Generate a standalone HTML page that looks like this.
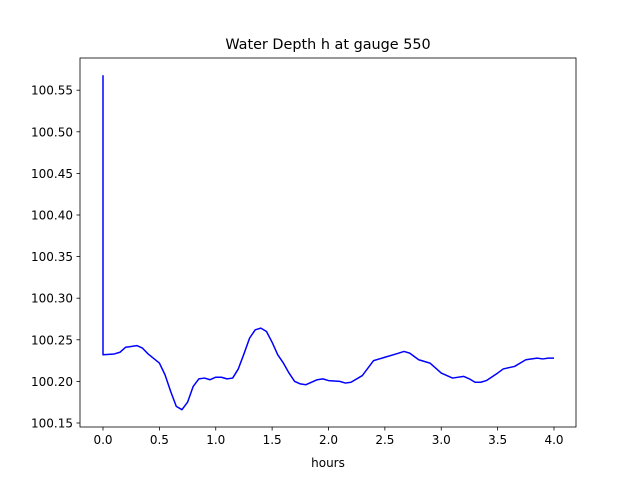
<!DOCTYPE html>
<html><head><meta charset="utf-8"><style>
body{margin:0;background:#fff}
svg{display:block;font-family:"DejaVu Sans","Liberation Sans",sans-serif}
</style></head><body>
<svg id="chart" width="640" height="480">
<text x="328" y="49" font-size="14.4" text-anchor="middle">Water Depth h at gauge 550</text>
<g id="ticks"></g>
<path id="line" fill="none" stroke="#0000ff" stroke-width="1.5" stroke-linejoin="round"></path>
<rect x="80" y="58" width="496" height="369" fill="none" stroke="#000" stroke-width="0.8"/>
<text x="328" y="467" font-size="12" text-anchor="middle">hours</text>
</svg>
<script>
const times=[0,0,0.1,0.15,0.2,0.3,0.35,0.4,0.5,0.55,0.6,0.65,0.7,0.75,0.8,0.85,0.9,0.95,1.0,1.05,1.1,1.15,1.2,1.25,1.3,1.35,1.4,1.45,1.5,1.55,1.6,1.65,1.7,1.75,1.8,1.85,1.9,1.95,2.0,2.1,2.15,2.2,2.3,2.35,2.4,2.5,2.6,2.67,2.72,2.8,2.9,3.0,3.1,3.2,3.25,3.3,3.35,3.4,3.5,3.55,3.65,3.75,3.85,3.9,3.95,4.0];
const depths=[100.568,100.232,100.233,100.235,100.241,100.243,100.240,100.233,100.222,100.208,100.188,100.170,100.166,100.175,100.194,100.203,100.204,100.202,100.205,100.205,100.203,100.204,100.215,100.233,100.252,100.262,100.264,100.260,100.247,100.232,100.222,100.210,100.200,100.197,100.196,100.199,100.202,100.203,100.201,100.200,100.198,100.199,100.207,100.216,100.225,100.229,100.233,100.236,100.234,100.226,100.222,100.210,100.204,100.206,100.203,100.199,100.199,100.201,100.210,100.215,100.218,100.226,100.228,100.227,100.228,100.228];
const xTicks=[0,0.5,1,1.5,2,2.5,3,3.5,4];
const yTicks=[100.15,100.20,100.25,100.30,100.35,100.40,100.45,100.50,100.55];
const X=t=>103+t*112.75;
const Y=v=>423-(v-100.15)*832;
const NS="http://www.w3.org/2000/svg";
const g=document.getElementById('ticks');
function mk(tag,attrs,txt){const e=document.createElementNS(NS,tag);for(const k in attrs)e.setAttribute(k,attrs[k]);if(txt!==undefined)e.textContent=txt;g.appendChild(e);return e;}
xTicks.forEach(t=>{
 const l=mk('line',{x1:X(t),x2:X(t),y1:427,y2:430.5,stroke:'#000','stroke-width':0.8});
 
 
 const s=mk('text',{x:X(t),y:444,'font-size':12,'text-anchor':'middle'},t.toFixed(1));
 
 
});
yTicks.forEach(v=>{
 const l=mk('line',{x1:76.5,x2:80,y1:Y(v),y2:Y(v),stroke:'#000','stroke-width':0.8});
 
 
 const s=mk('text',{x:73,y:Y(v)+4.5,'font-size':12,'text-anchor':'end'},v.toFixed(2));
 
 
});
document.getElementById('line').setAttribute('d',times.map((t,i)=>(i?'L':'M')+X(t).toFixed(2)+','+Y(depths[i]).toFixed(2)).join(''));
</script>
</body></html>
